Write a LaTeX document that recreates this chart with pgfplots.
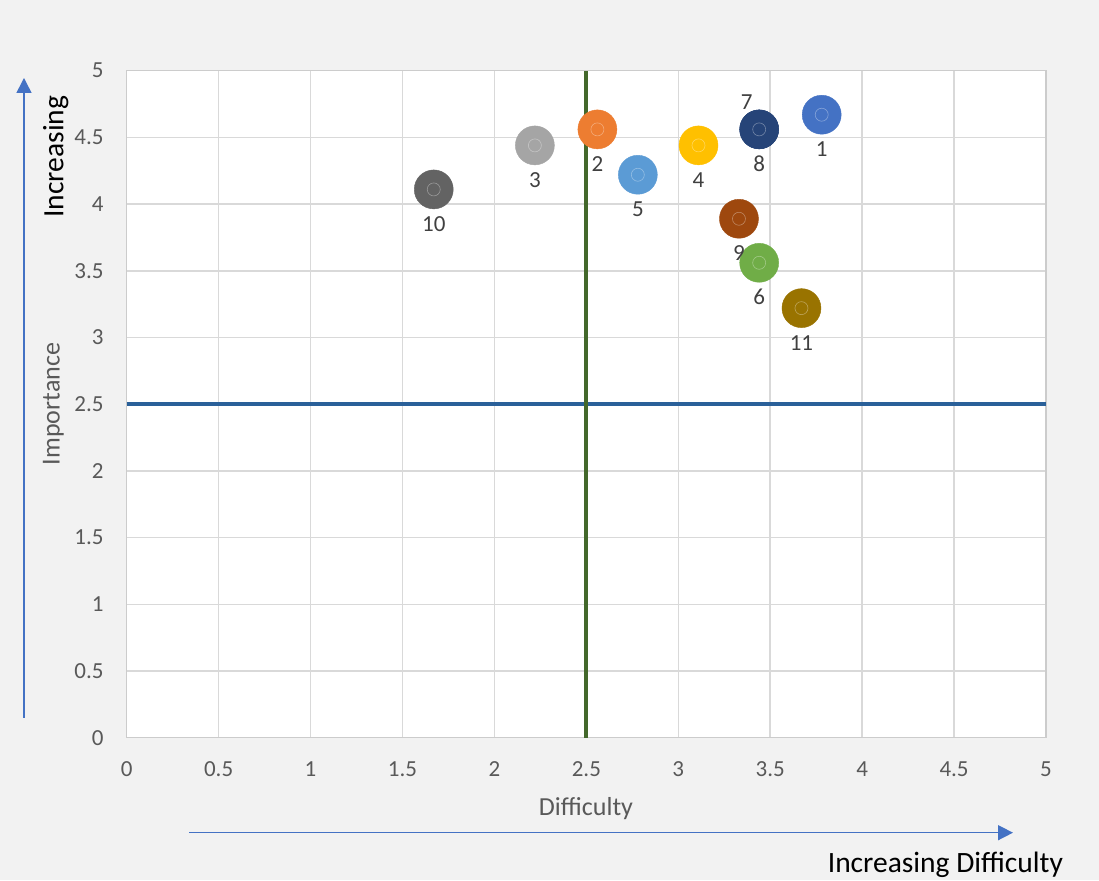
\documentclass[border=0pt]{standalone}
\usepackage{pgfplots}
\pgfplotsset{compat=1.18}
\usepackage{fontspec}
\setmainfont{Carlito}
\usetikzlibrary{arrows.meta}
\definecolor{bg}{HTML}{F2F2F2}
\definecolor{gridc}{HTML}{D9D9D9}
\definecolor{axc}{HTML}{CCCCCC}
\definecolor{tickc}{HTML}{595959}
\definecolor{labc}{HTML}{404040}
\definecolor{arrc}{HTML}{4472C4}
\definecolor{vline}{HTML}{43682B}
\definecolor{hline}{HTML}{2A6099}
\definecolor{c1}{HTML}{4472C4}
\definecolor{c2}{HTML}{ED7D31}
\definecolor{c3}{HTML}{A5A5A5}
\definecolor{c4}{HTML}{FFC000}
\definecolor{c5}{HTML}{5B9BD5}
\definecolor{c6}{HTML}{70AD47}
\definecolor{c7}{HTML}{264478}
\definecolor{c8}{HTML}{264478}
\definecolor{c9}{HTML}{9E480E}
\definecolor{c10}{HTML}{636363}
\definecolor{c11}{HTML}{997300}
\begin{document}
\begin{tikzpicture}
\fill[bg] (0,0) rectangle (1099pt,880pt);
\begin{axis}[
  at={(126.7pt,142.3pt)}, anchor=south west,
  scale only axis, width=919.3pt, height=667pt,
  xmin=0, xmax=5, ymin=0, ymax=5,
  xtick={0,0.5,1,1.5,2,2.5,3,3.5,4,4.5,5},
  ytick={0,0.5,1,1.5,2,2.5,3,3.5,4,4.5,5},
  /pgf/number format/assume math mode=true,
  grid=major,
  major grid style={draw=gridc, line width=1.5pt},
  axis line style={draw=axc, line width=1.5pt},
  major tick length=0pt,
  axis background/.style={fill=white},
  tick label style={font=\fontsize{23}{27}\selectfont, text=tickc, inner sep=0pt},
  xticklabel style={anchor=north, yshift=-24pt},
  yticklabel style={anchor=east, xshift=-23pt},
  clip=false,
]
\addplot[hline, line width=4pt] coordinates {(0,2.5) (5,2.5)};
\addplot[vline, line width=4pt] coordinates {(2.5,0) (2.5,5)};
\addplot[only marks, mark=*, mark size=19.5pt, c1, mark options={draw=c1, fill=c1}] coordinates {(3.78,4.67)};
\addplot[only marks, mark=*, mark size=19.5pt, c2, mark options={draw=c2, fill=c2}] coordinates {(2.56,4.56)};
\addplot[only marks, mark=*, mark size=19.5pt, c3, mark options={draw=c3, fill=c3}] coordinates {(2.22,4.44)};
\addplot[only marks, mark=*, mark size=19.5pt, c4, mark options={draw=c4, fill=c4}] coordinates {(3.11,4.44)};
\addplot[only marks, mark=*, mark size=19.5pt, c5, mark options={draw=c5, fill=c5}] coordinates {(2.78,4.22)};
\addplot[only marks, mark=*, mark size=19.5pt, c6, mark options={draw=c6, fill=c6}] coordinates {(3.44,3.56)};
\addplot[only marks, mark=*, mark size=19.5pt, c7, mark options={draw=c7, fill=c7}] coordinates {(3.44,4.56)};
\addplot[only marks, mark=*, mark size=19.5pt, c8, mark options={draw=c8, fill=c8}] coordinates {(3.44,4.56)};
\addplot[only marks, mark=*, mark size=19.5pt, c9, mark options={draw=c9, fill=c9}] coordinates {(3.33,3.89)};
\addplot[only marks, mark=*, mark size=19.5pt, c10, mark options={draw=c10, fill=c10}] coordinates {(1.67,4.11)};
\addplot[only marks, mark=*, mark size=19.5pt, c11, mark options={draw=c11, fill=c11}] coordinates {(3.67,3.22)};
% faint inner rings
\addplot[only marks, mark=o, mark size=6.5pt, mark options={draw=white, draw opacity=0.35, line width=0.6pt}] coordinates {
  (3.78,4.67) (2.56,4.56) (2.22,4.44) (3.11,4.44) (2.78,4.22) (3.44,3.56)
  (3.44,4.56) (3.33,3.89) (1.67,4.11) (3.67,3.22)};
% data labels below points
\addplot[only marks, mark=none, nodes near coords, point meta=explicit symbolic,
  nodes near coords style={font=\fontsize{23}{27}\selectfont, text=labc, anchor=base, yshift=-42pt, inner sep=0pt}]
  coordinates {
  (3.78,4.67) [1] (2.56,4.56) [2] (2.22,4.44) [3] (3.11,4.44) [4] (2.78,4.22) [5]
  (3.44,3.56) [6] (3.44,4.56) [8] (3.33,3.89) [9] (1.67,4.11) [10] (3.67,3.22) [11]};
% data label above point 7
\addplot[only marks, mark=none, nodes near coords, point meta=explicit symbolic,
  nodes near coords style={font=\fontsize{23}{27}\selectfont, text=labc, anchor=base, yshift=20pt, xshift=-12.5pt, inner sep=0pt}]
  coordinates {(3.44,4.56) [7]};
\end{axis}
% axis titles
\node[font=\fontsize{26}{30}\selectfont, text=tickc, anchor=base, inner sep=0pt] at (586pt,64pt) {Difficulty};
\node[font=\fontsize{26}{30}\selectfont, text=tickc, anchor=base, rotate=90, inner sep=0pt] at (59.5pt,476pt) {Importance};
% arrows
\draw[arrc, line width=1.5pt, -{Triangle[length=15pt,width=15pt]}] (24pt,162pt) -- (24pt,802pt);
\draw[arrc, line width=1.5pt, -{Triangle[length=15pt,width=15pt]}] (189pt,47.3pt) -- (1013pt,47.3pt);
\node[font=\fontsize{29.5}{34}\selectfont, text=black, anchor=base, rotate=90, inner sep=0pt] at (63.3pt,723.3pt) {Increasing};
\node[font=\fontsize{29.5}{34}\selectfont, text=black, anchor=base, inner sep=0pt] at (945.4pt,7.3pt) {Increasing Difficulty};
\pgfresetboundingbox
\path[use as bounding box] (0,0) rectangle (1099pt,880pt);
\end{tikzpicture}
\end{document}
